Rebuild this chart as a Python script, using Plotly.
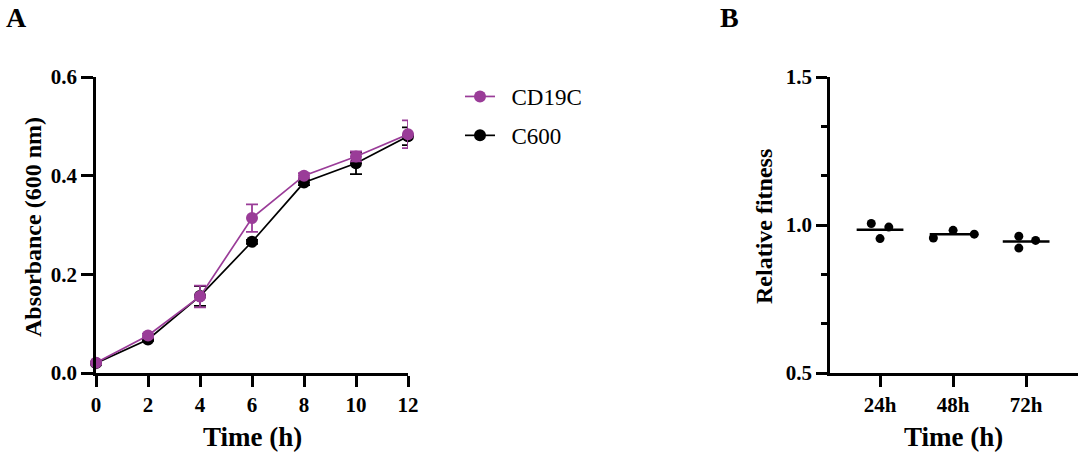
import plotly.graph_objects as go

# ---- Panel A data ----
time_h = [0, 2, 4, 6, 8, 10, 12]
cd19c_mean = [0.021, 0.076, 0.155, 0.314, 0.400, 0.439, 0.484]
cd19c_err = [0.003, 0.004, 0.022, 0.028, 0.005, 0.010, 0.028]
c600_mean = [0.020, 0.068, 0.156, 0.266, 0.386, 0.425, 0.480]
c600_err = [0.003, 0.003, 0.020, 0.004, 0.005, 0.022, 0.018]
a_yticks = [0.0, 0.2, 0.4, 0.6]
a_xticks = [0, 2, 4, 6, 8, 10, 12]

# ---- Panel B data ----
fitness_groups = ["24h", "48h", "72h"]
fitness_values = [
    [1.005, 0.954, 0.993],
    [0.956, 0.982, 0.969],
    [0.962, 0.922, 0.948],
]
b_yticks = [0.5, 1.0, 1.5]

PURPLE = "#9a3c98"
BLACK = "#000000"
FONT = "Liberation Serif, Times New Roman, serif"

# jitter offsets (layout only)
jitter = [
    [-0.12, 0.0, 0.12],
    [-0.27, 0.0, 0.29],
    [-0.10, -0.10, 0.13],
]
mean_half = 0.32

fig = go.Figure()

fig.add_trace(go.Scatter(
    x=time_h, y=c600_mean, name="\u00a0\u00a0C600", mode="lines+markers",
    line=dict(color=BLACK, width=1.7),
    marker=dict(color=BLACK, size=12),
    error_y=dict(type="data", array=c600_err, color=BLACK, thickness=1.8, width=6),
    xaxis="x", yaxis="y", cliponaxis=False, legendrank=2, legendgroup="b",
))
fig.add_trace(go.Scatter(
    x=time_h, y=cd19c_mean, name="\u00a0\u00a0CD19C", mode="lines+markers",
    line=dict(color=PURPLE, width=1.7),
    marker=dict(color=PURPLE, size=12),
    error_y=dict(type="data", array=cd19c_err, color=PURPLE, thickness=1.8, width=6),
    xaxis="x", yaxis="y", cliponaxis=False, legendrank=1, legendgroup="a",
))

for i, vals in enumerate(fitness_values):
    xs = [i + j for j in jitter[i]]
    fig.add_trace(go.Scatter(
        x=xs, y=vals, mode="markers", showlegend=False,
        marker=dict(color=BLACK, size=9),
        xaxis="x2", yaxis="y2", cliponaxis=False,
    ))
    m = sum(vals) / len(vals)
    fig.add_trace(go.Scatter(
        x=[i - mean_half, i + mean_half], y=[m, m], mode="lines", showlegend=False,
        line=dict(color=BLACK, width=2.5),
        xaxis="x2", yaxis="y2", cliponaxis=False,
    ))

tickfont = dict(family=FONT, size=21, color=BLACK, weight="bold")
ydom = [82 / 455, 378 / 455]

fig.update_layout(
    width=1080, height=455,
    margin=dict(l=0, r=0, t=0, b=0, pad=0, autoexpand=False),
    paper_bgcolor="white", plot_bgcolor="white",
    font=dict(family=FONT, color=BLACK),
    xaxis=dict(
        domain=[96 / 1080, 408 / 1080], range=[0, 12], automargin=False,
        tickvals=a_xticks, ticks="outside", ticklen=11, tickwidth=2.5,
        showline=True, linewidth=2.5, linecolor=BLACK, tickcolor=BLACK,
        showgrid=False, zeroline=False, tickfont=tickfont, anchor="y",
    ),
    yaxis=dict(
        domain=ydom, range=[0, 0.6], automargin=False,
        tickvals=a_yticks, ticktext=[f"{v:.1f}" for v in a_yticks],
        ticks="outside", ticklen=12, tickwidth=2.5,
        showline=True, linewidth=2.5, linecolor=BLACK, tickcolor=BLACK,
        showgrid=False, zeroline=False, tickfont=tickfont, anchor="x",
    ),
    xaxis2=dict(
        domain=[830 / 1080, 1078 / 1080], range=[-0.685, 2.71], automargin=False,
        tickvals=list(range(len(fitness_groups))), ticktext=fitness_groups,
        ticks="outside", ticklen=11, tickwidth=2.5,
        showline=True, linewidth=2.5, linecolor=BLACK, tickcolor=BLACK,
        showgrid=False, zeroline=False, tickfont=tickfont, anchor="y2",
    ),
    yaxis2=dict(
        domain=ydom, range=[0.5, 1.5], automargin=False,
        tickvals=b_yticks, ticktext=[f"{v:.1f}" for v in b_yticks],
        ticks="outside", ticklen=11, tickwidth=2.5,
        minor=dict(tickvals=[0.5 + k / 6 for k in range(7)], ticks="outside",
                   ticklen=6, tickwidth=2.5, tickcolor=BLACK, showgrid=False),
        showline=True, linewidth=2.5, linecolor=BLACK, tickcolor=BLACK,
        showgrid=False, zeroline=False, tickfont=tickfont, anchor="x2",
    ),
    legend=dict(
        x=460 / 1080, y=1 - 75 / 455, xanchor="left", yanchor="top",
        font=dict(family=FONT, size=23, color=BLACK),
        bgcolor="rgba(0,0,0,0)", tracegroupgap=6, itemwidth=30,
    ),
    showlegend=True,
)

ann_title = dict(family=FONT, size=24, color=BLACK, weight="bold")
fig.add_annotation(text="Absorbance (600 nm)", x=33 / 1080, y=1 - 227 / 455,
                   xref="paper", yref="paper", textangle=-90, showarrow=False,
                   font=ann_title, xanchor="center", yanchor="middle")
fig.add_annotation(text="Relative fitness", x=764 / 1080, y=1 - 227 / 455,
                   xref="paper", yref="paper", textangle=-90, showarrow=False,
                   font=ann_title, xanchor="center", yanchor="middle")
fig.add_annotation(text="Time (h)", x=252 / 1080, y=1 - 437 / 455,
                   xref="paper", yref="paper", showarrow=False,
                   font=dict(family=FONT, size=27, color=BLACK, weight="bold"),
                   xanchor="center", yanchor="middle")
fig.add_annotation(text="Time (h)", x=953 / 1080, y=1 - 437 / 455,
                   xref="paper", yref="paper", showarrow=False,
                   font=dict(family=FONT, size=27, color=BLACK, weight="bold"),
                   xanchor="center", yanchor="middle")
fig.add_annotation(text="A", x=16 / 1080, y=1,
                   xref="paper", yref="paper", showarrow=False,
                   font=dict(family=FONT, size=28, color=BLACK, weight="bold"),
                   xanchor="center", yanchor="top")
fig.add_annotation(text="B", x=729 / 1080, y=1,
                   xref="paper", yref="paper", showarrow=False,
                   font=dict(family=FONT, size=28, color=BLACK, weight="bold"),
                   xanchor="center", yanchor="top")

fig.write_html("out.html")
